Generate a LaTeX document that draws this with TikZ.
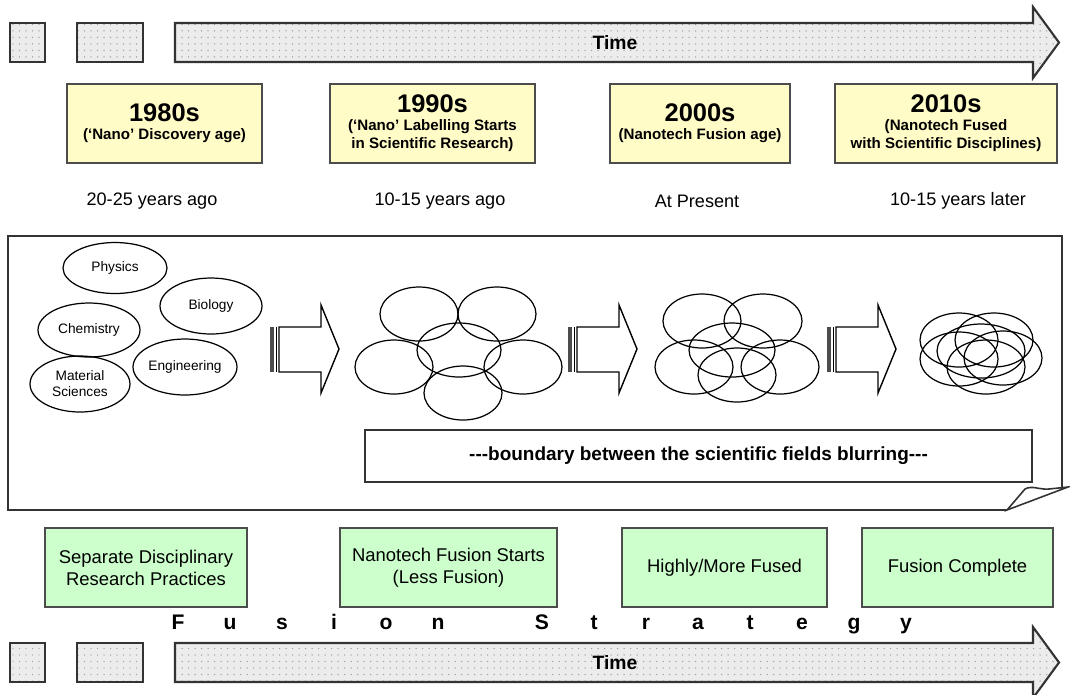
\documentclass[tikz,border=0pt]{standalone}
\usepackage{fontspec}
\setmainfont{Liberation Sans}
\usetikzlibrary{shapes.geometric,patterns}
\pgfdeclarepatternformonly{sparsedots}{\pgfqpoint{-1pt}{-1pt}}{\pgfqpoint{1pt}{1pt}}%
  {\pgfqpoint{3.7pt}{3.7pt}}{\pgfpathcircle{\pgfqpoint{0pt}{0pt}}{.42pt}\pgfusepath{fill}}

\begin{document}
\begin{tikzpicture}[x=0.02cm, y=-0.02cm, line width=0.8pt]
  \tikzstyle{timebar}=[draw=black!80, line width=1.2pt, preaction={fill=gray!15},
    pattern=sparsedots, pattern color=gray!75]
  \tikzstyle{yearbox}=[draw=black!70, fill=yellow!22, minimum height=1.58cm,
    align=center, inner sep=2pt, font=\bfseries\fontsize{8.6}{10.2}\selectfont]
  \tikzstyle{age}=[font=\fontsize{10.3}{12}\selectfont]
  \tikzstyle{stagebox}=[draw=black!70, fill=green!20, minimum height=1.58cm,
    align=center, font=\fontsize{10.5}{12.5}\selectfont]
  \tikzstyle{field}=[ellipse, draw, line width=0.7pt, align=center, inner sep=0pt,
    font=\fontsize{7.8}{9.2}\selectfont]
  \tikzstyle{ring}=[line width=0.7pt]
  \def\decfont{\fontsize{14.5}{16}\selectfont}
  \useasboundingbox (0,0) rectangle (1070,694);

  % time bars, top and bottom
  \foreach \dy/\tname in {0/timetop, 620/timebot} {
    \draw[timebar] (10,{23+\dy}) rectangle (45,{62+\dy});
    \draw[timebar] (77,{23+\dy}) rectangle (143,{62+\dy});
    \draw[timebar] (175,{23+\dy}) -- (1033,{23+\dy}) -- (1033,{7+\dy}) -- (1059,{42.5+\dy})
      -- (1033,{78+\dy}) -- (1033,{62+\dy}) -- (175,{62+\dy}) -- cycle;
    \node[font=\bfseries\fontsize{11}{13}\selectfont] (\tname) at (615,{42.5+\dy}) {Time};
  }

  % decades
  \node[yearbox, minimum width=3.9cm] (d80) at (164.5,123.5)
    {{\decfont 1980s}\\(‘Nano’ Discovery age)};
  \node[yearbox, minimum width=4.1cm] (d90) at (432.5,123.5)
    {{\decfont 1990s}\\(‘Nano’ Labelling Starts\\in Scientific Research)};
  \node[yearbox, minimum width=3.6cm] (d00) at (700,123.5)
    {{\decfont 2000s}\\(Nanotech Fusion age)};
  \node[yearbox, minimum width=4.44cm] (d10) at (946,123.5)
    {{\decfont 2010s}\\(Nanotech Fused\\with Scientific Disciplines)};

  \node[age] (a80) at (152,201) {20-25 years ago};
  \node[age] (a90) at (440,201) {10-15 years ago};
  \node[age] (a00) at (697,201) {At Present};
  \node[age] (a10) at (958,201) {10-15 years later};

  % frame with folded corner
  \draw[line width=0.9pt, black!80] (1062,487) -- (1062,236) -- (8,236) -- (8,510) -- (1007,510);
  \draw[line width=0.9pt, black!80, fill=white] (1007,510) -- (1025,489)
    .. controls (1032,485) and (1040,490) .. (1049,489) -- (1068,487) -- cycle;

  % separate fields
  \node[field, minimum width=2.08cm, minimum height=1.02cm] (phys) at (115,268) {Physics};
  \node[field, minimum width=2.04cm, minimum height=1.12cm] (bio) at (211,306) {Biology};
  \node[field, minimum width=2.04cm, minimum height=1.08cm] (chem) at (89,330) {Chemistry};
  \node[field, minimum width=2.08cm, minimum height=1.12cm] (eng) at (185,367) {Engineering};
  \node[field, minimum width=2.0cm, minimum height=1.12cm] (mat) at (80,384) {Material\\Sciences};

  % block arrows
  \foreach \ax in {270, 568, 827} {
    \fill[black!70] (\ax,327) rectangle ({\ax+4},372);
    \draw[line width=0.6pt] ({\ax+6.5},327) -- ({\ax+6.5},372);
    \draw[line width=0.8pt] ({\ax+9},327) -- ({\ax+51},327) -- ({\ax+51},305) -- ({\ax+69},349)
      -- ({\ax+51},393) -- ({\ax+51},372) -- ({\ax+9},372) -- cycle;
  }

  % fields coming together
  \foreach \cx/\cy/\rx in {419/314/39, 497/314/39, 459/350/42, 394/367/39, 523/367/39, 463/393/39,
                          702/321/39, 763/321/39, 732/350/43, 694/367/39, 780/367/39, 737/375/39,
                          959/340/39, 994/340/39, 981/351/44, 959/359/39, 986/367/39, 1003/358/39}
    \draw[ring] (\cx,\cy) ellipse [x radius=\rx, y radius=27];

  \node[draw=black!80, minimum width=13.34cm, minimum height=1.04cm,
    font=\bfseries\fontsize{10.8}{13}\selectfont] (blur) at (698.5,456)
    {-\kern0pt-\kern0pt-boundary between the scientific fields blurring-\kern0pt-\kern0pt-};

  % stages
  \node[stagebox, minimum width=4.04cm] (s1) at (146,567.5) {Separate Disciplinary\\Research Practices};
  \node[stagebox, minimum width=4.34cm] (s2) at (448.5,567.5) {Nanotech Fusion Starts\\(Less Fusion)};
  \node[stagebox, minimum width=4.1cm] (s3) at (724.5,567.5) {Highly/More Fused};
  \node[stagebox, minimum width=3.82cm] (s4) at (957.5,567.5) {Fusion Complete};

  \foreach \i/\ch in {0/F,1/u,2/s,3/i,4/o,5/n,7/S,8/t,9/r,10/a,11/t,12/e,13/g,14/y}
    \node[anchor=base, font=\bfseries\fontsize{12}{14}\selectfont] (fs\i) at ({178+52*\i},629) {\ch};
\end{tikzpicture}
\end{document}
